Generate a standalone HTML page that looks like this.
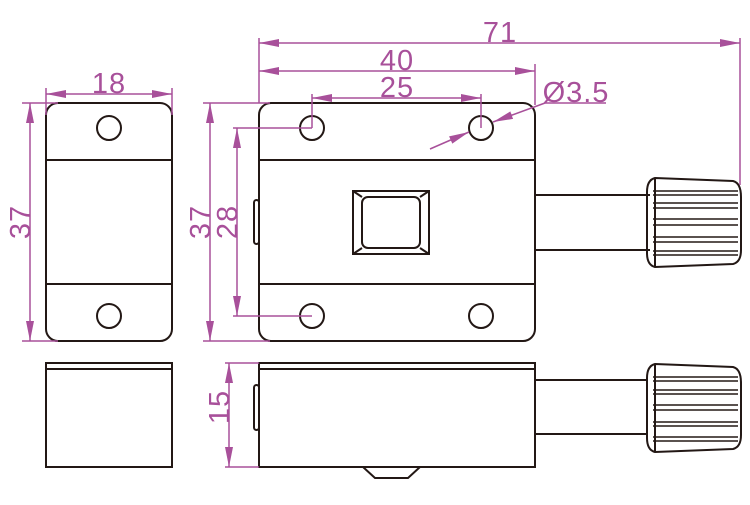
<!DOCTYPE html>
<html><head><meta charset="utf-8"><style>html,body{margin:0;padding:0;background:#fff}</style></head><body>
<svg width="750" height="500" viewBox="0 0 750 500" xmlns="http://www.w3.org/2000/svg">
<defs>
<marker id="a" viewBox="0 0 20 8" refX="20" refY="4" markerWidth="20" markerHeight="8" markerUnits="userSpaceOnUse" orient="auto-start-reverse"><path d="M0,0 L20,4 L0,8 Z" fill="#a8509a"/></marker>
</defs>
<g fill="none" stroke="#231815" stroke-width="2">
<rect x="46" y="103" width="126" height="238" rx="12"/>
<line x1="46" y1="160" x2="172" y2="160"/><line x1="46" y1="284" x2="172" y2="284"/>
<circle cx="109" cy="128" r="12"/><circle cx="109" cy="316" r="12"/>
<rect x="46" y="363" width="126" height="104"/>
<line x1="46" y1="369" x2="172" y2="369"/>
<rect x="259" y="103" width="276" height="238" rx="12"/>
<line x1="259" y1="160" x2="535" y2="160"/><line x1="259" y1="284" x2="535" y2="284"/>
<circle cx="312" cy="128" r="12"/><circle cx="481" cy="128" r="12"/>
<circle cx="312" cy="316" r="12"/><circle cx="481" cy="316" r="12"/>
<rect x="353" y="191" width="76" height="63"/>
<rect x="362" y="197" width="58" height="51" rx="6"/>
<line x1="353" y1="191" x2="362" y2="197"/><line x1="429" y1="191" x2="420" y2="197"/>
<line x1="353" y1="254" x2="362" y2="248"/><line x1="429" y1="254" x2="420" y2="248"/>
<rect x="254" y="200" width="5" height="44" rx="2.5"/>
<line x1="535" y1="195" x2="650" y2="195"/><line x1="535" y1="250" x2="650" y2="250"/>
<path d="M655,178 L733,181 Q741,183 741,197 L741,250 Q741,262 733,264 L655,267 Q647,265 647,253 L647,192 Q647,180 655,178 Z"/>
<line x1="655" y1="178" x2="655" y2="267"/>
<g stroke-width="1.6">
<line x1="653" y1="191" x2="738" y2="191"/><line x1="653" y1="195" x2="738" y2="195"/>
<line x1="653" y1="203" x2="738" y2="203"/><line x1="653" y1="208" x2="738" y2="208"/>
<line x1="653" y1="219" x2="738" y2="219"/><line x1="653" y1="225" x2="738" y2="225"/>
<line x1="653" y1="237" x2="738" y2="237"/><line x1="653" y1="242" x2="738" y2="242"/>
<line x1="653" y1="251" x2="738" y2="251"/><line x1="653" y1="255" x2="738" y2="255"/>
</g>
<rect x="259" y="363" width="276" height="104"/>
<line x1="259" y1="369" x2="535" y2="369"/>
<rect x="254" y="385" width="5" height="45" rx="2.5"/>
<line x1="535" y1="380" x2="648" y2="380"/><line x1="535" y1="434" x2="648" y2="434"/>
<path d="M363,467 L375,478 L408,478 L420,467"/>
<path d="M655,364 L733,367 Q741,369 741,383 L741,435 Q741,447 733,449 L655,452 Q647,450 647,438 L647,378 Q647,366 655,364 Z"/>
<line x1="655" y1="364" x2="655" y2="452"/>
<g stroke-width="1.6">
<line x1="653" y1="377" x2="738" y2="377"/><line x1="653" y1="381" x2="738" y2="381"/>
<line x1="653" y1="390" x2="738" y2="390"/><line x1="653" y1="394" x2="738" y2="394"/>
<line x1="653" y1="405" x2="738" y2="405"/><line x1="653" y1="410" x2="738" y2="410"/>
<line x1="653" y1="422" x2="738" y2="422"/><line x1="653" y1="426" x2="738" y2="426"/>
<line x1="653" y1="437" x2="738" y2="437"/><line x1="653" y1="441" x2="738" y2="441"/>
</g>
</g>
<g stroke="#a8509a" stroke-width="1.5" fill="none">
<line x1="259" y1="38" x2="259" y2="103"/><line x1="740" y1="38" x2="740" y2="185"/>
<line x1="259" y1="43" x2="740" y2="43" marker-start="url(#a)" marker-end="url(#a)"/>
<line x1="535" y1="64" x2="535" y2="105"/>
<line x1="259" y1="71" x2="535" y2="71" marker-start="url(#a)" marker-end="url(#a)"/>
<line x1="312" y1="94" x2="312" y2="128"/><line x1="481" y1="94" x2="481" y2="128"/>
<line x1="312" y1="98" x2="481" y2="98" marker-start="url(#a)" marker-end="url(#a)"/>
<line x1="430" y1="149" x2="469" y2="132" marker-end="url(#a)"/>
<line x1="545" y1="103" x2="493" y2="122" marker-end="url(#a)"/>
<line x1="545" y1="103" x2="606" y2="103"/>
<line x1="46" y1="88" x2="46" y2="115"/><line x1="172" y1="88" x2="172" y2="115"/>
<line x1="46" y1="94" x2="172" y2="94" marker-start="url(#a)" marker-end="url(#a)"/>
<line x1="22" y1="103" x2="58" y2="103"/><line x1="22" y1="341" x2="58" y2="341"/>
<line x1="30" y1="103" x2="30" y2="341" marker-start="url(#a)" marker-end="url(#a)"/>
<line x1="203" y1="103" x2="270" y2="103"/><line x1="203" y1="341" x2="270" y2="341"/>
<line x1="210" y1="103" x2="210" y2="341" marker-start="url(#a)" marker-end="url(#a)"/>
<line x1="233" y1="128" x2="312" y2="128"/><line x1="233" y1="316" x2="312" y2="316"/>
<line x1="237" y1="128" x2="237" y2="316" marker-start="url(#a)" marker-end="url(#a)"/>
<line x1="225" y1="363" x2="259" y2="363"/><line x1="225" y1="467" x2="259" y2="467"/>
<line x1="229" y1="363" x2="229" y2="467" marker-start="url(#a)" marker-end="url(#a)"/>
</g>
<g fill="#a8509a" font-family="Liberation Sans, sans-serif" font-size="29" text-anchor="middle" letter-spacing="1">
<text x="500" y="42">71</text>
<text x="397" y="70">40</text>
<text x="397" y="97">25</text>
<text x="576" y="102">Ø3.5</text>
<text x="109" y="93">18</text>
<text transform="translate(30,222) rotate(-90)">37</text>
<text transform="translate(210,222) rotate(-90)">37</text>
<text transform="translate(237,222) rotate(-90)">28</text>
<text transform="translate(229,407) rotate(-90)">15</text>
</g>
</svg>
</body></html>
